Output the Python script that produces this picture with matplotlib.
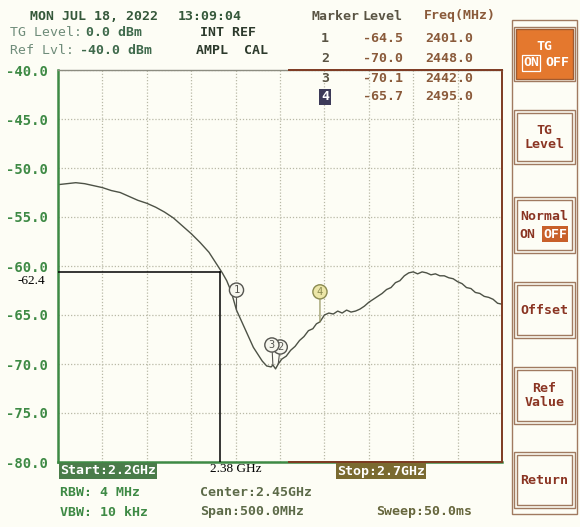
import matplotlib.pyplot as plt
from matplotlib.patches import Rectangle
import numpy as np

# trace (MHz, dBm)
freq_mhz = [2200, 2210, 2220, 2230, 2240, 2250, 2260, 2270, 2280, 2290,
            2300, 2310, 2320, 2330, 2340, 2350, 2360, 2370, 2375, 2380,
            2385, 2390, 2395, 2401, 2405, 2410, 2415, 2420, 2425, 2430,
            2435, 2440, 2442, 2445, 2448, 2452, 2457, 2462, 2467, 2472,
            2477, 2482, 2487, 2491, 2495, 2500, 2505, 2510, 2515, 2520,
            2525, 2530, 2535, 2540, 2545, 2550, 2555, 2560, 2565, 2570,
            2575, 2580, 2585, 2590, 2595, 2600, 2605, 2610, 2615, 2620,
            2625, 2630, 2635, 2640, 2645, 2650, 2655, 2660, 2665, 2670,
            2675, 2680, 2685, 2690, 2695, 2700]
level_dbm = [-51.7, -51.6, -51.5, -51.6, -51.8, -52.0, -52.3, -52.5, -52.9, -53.3,
             -53.6, -54.0, -54.5, -55.1, -55.9, -56.7, -57.6, -58.6, -59.3, -60.0,
             -60.7, -61.5, -62.6, -64.5, -65.3, -66.3, -67.3, -68.3, -69.0, -69.7,
             -70.2, -70.3, -70.1, -70.5, -70.0, -69.5, -69.2, -68.6, -68.2, -67.6,
             -67.2, -66.6, -66.4, -65.9, -65.7, -65.0, -64.8, -64.9, -64.6, -64.8,
             -64.5, -64.7, -64.6, -64.4, -64.1, -63.7, -63.4, -63.1, -62.8, -62.4,
             -62.2, -61.7, -61.5, -61.0, -60.7, -60.6, -60.8, -60.6, -60.7, -60.9,
             -60.8, -61.0, -61.0, -61.2, -61.3, -61.6, -61.8, -62.2, -62.3, -62.7,
             -62.8, -63.1, -63.2, -63.4, -63.8, -63.9]

marker_ids = ["1", "2", "3", "4"]
marker_level = [-64.5, -70.0, -70.1, -65.7]
marker_freq = [2401.0, 2448.0, 2442.0, 2495.0]
marker_level_txt = ["-64.5", "-70.0", "-70.1", "-65.7"]

y_ticks = [-40, -45, -50, -55, -60, -65, -70, -75, -80]
cursor_freq = 2382
cursor_level = -60.6
cursor_level_label = "-62.4"
cursor_freq_label = "2.38 GHz"

W, H = 580, 527
BG = "#fdfdf5"
GREEN = "#3e8a45"
BROWN = "#7e3a22"
MONO = "DejaVu Sans Mono"


def fx(x):
    return x / W


def fy(y):
    return 1 - y / H


fig = plt.figure(figsize=(5.8, 5.27), dpi=100, facecolor=BG)
ax = fig.add_axes([fx(58), fy(462), fx(502) - fx(58), fy(70) - fy(462)])
ax.set_facecolor(BG)

ax.set_xlim(2200, 2700)
ax.set_ylim(-80, -40)
ax.set_xticks(np.arange(2200, 2701, 50))
ax.set_xticklabels([])
ax.set_yticks(y_ticks)
ax.set_yticklabels(["%.1f" % v for v in y_ticks], color=GREEN,
                   family=MONO, fontsize=10, fontweight="bold")
ax.tick_params(length=0, pad=7)
ax.grid(color="#b9b9a6", ls=(0, (1, 1.5)), lw=0.9)

for s in ["left", "bottom"]:
    ax.spines[s].set_color(GREEN)
    ax.spines[s].set_linewidth(1.8)
ax.spines["top"].set_color("#8c8c80")
ax.spines["top"].set_linewidth(1.0)
ax.spines["right"].set_color(BROWN)
ax.spines["right"].set_linewidth(1.4)
ax.plot([2460, 2700], [-40, -40], color=BROWN, lw=1.4, clip_on=False, zorder=5)
ax.plot([2460, 2700], [-80, -80], color=BROWN, lw=1.4, clip_on=False, zorder=5)

ax.plot(freq_mhz, level_dbm, color="#4d5246", lw=1.0)

# marker circles
offsets = [20, 17, 20, 30]
dxs = [0, 2, -1, 0]
for mid, f, l, off, dx in zip(marker_ids, marker_freq, marker_level, offsets, dxs):
    fc = "#ece6a8" if mid == "4" else "#f6f6ee"
    ec = "#8a8a50" if mid == "4" else "#555550"
    ax.annotate(mid, xy=(f, l), xytext=(dx, off), textcoords="offset pixels",
                ha="center", va="center", fontsize=7.5, color=ec, family=MONO,
                bbox=dict(boxstyle="circle,pad=0.2", fc=fc, ec=ec, lw=1.0),
                arrowprops=dict(arrowstyle="-", color=ec, lw=0.8,
                                shrinkA=0, shrinkB=0))

# cursor lines
ax.plot([2200, cursor_freq], [cursor_level, cursor_level], color="black", lw=1.1, zorder=6)
ax.plot([cursor_freq, cursor_freq], [cursor_level, -80], color="black", lw=1.1, zorder=6)
fig.text(fx(18), fy(281), cursor_level_label, family="Liberation Serif",
         fontsize=9.5, color="black", va="center")
fig.text(fx(236), fy(469), cursor_freq_label, family="Liberation Serif",
         fontsize=9.5, color="black", va="center", ha="center")

# header
fig.text(fx(30), fy(16), "MON JUL 18, 2022", family=MONO, fontsize=9.5,
         color="#35583a", va="center", fontweight="bold")
fig.text(fx(178), fy(16), "13:09:04", family=MONO, fontsize=9.5,
         color="#35583a", va="center", fontweight="bold")
fig.text(fx(10), fy(33), "TG Level:", family=MONO, fontsize=9.5,
         color="#6f8c7a", va="center")
fig.text(fx(86), fy(33), "0.0 dBm", family=MONO, fontsize=9.5,
         color="#3f6a4c", va="center", fontweight="bold")
fig.text(fx(10), fy(50), "Ref Lvl:", family=MONO, fontsize=9.5,
         color="#6f8c7a", va="center")
fig.text(fx(80), fy(50), "-40.0 dBm", family=MONO, fontsize=9.5,
         color="#3f6a4c", va="center", fontweight="bold")
fig.text(fx(200), fy(33), "INT REF", family=MONO, fontsize=9.5,
         color="#2c3a2c", va="center", fontweight="bold")
fig.text(fx(196), fy(50), "AMPL  CAL", family=MONO, fontsize=9.5,
         color="#2c3a2c", va="center", fontweight="bold")

# marker table
fig.text(fx(312), fy(16), "Marker", family=MONO, fontsize=9.5,
         color="#5a5444", va="center", fontweight="bold")
fig.text(fx(362), fy(16), "Level", family=MONO, fontsize=9.5,
         color="#5a5444", va="center", fontweight="bold")
fig.text(fx(424), fy(16), "Freq(MHz)", family=MONO, fontsize=9.5,
         color="#8a5a3a", va="center", fontweight="bold")
row_y = [39, 58, 78, 97]
for mid, lt, f, ry in zip(marker_ids, marker_level_txt, marker_freq, row_y):
    if mid == "4":
        fig.text(fx(325), fy(ry), mid, family=MONO, fontsize=9.5, color="white",
                 va="center", ha="center", fontweight="bold",
                 bbox=dict(boxstyle="square,pad=0.12", fc="#3c3a58", ec="none"))
    else:
        fig.text(fx(325), fy(ry), mid, family=MONO, fontsize=9.5, color="#5a5444",
                 va="center", ha="center", fontweight="bold")
    fig.text(fx(363), fy(ry), lt, family=MONO, fontsize=9.5, color="#8a5a3a",
             va="center", fontweight="bold")
    fig.text(fx(425), fy(ry), "%.1f" % f, family=MONO, fontsize=9.5,
             color="#8a5a3a", va="center", fontweight="bold")

# bottom status lines
fig.text(fx(60), fy(471), "Start:2.2GHz", family=MONO, fontsize=9.5, color="white",
         va="center", fontweight="bold",
         bbox=dict(boxstyle="square,pad=0.1", fc="#4a7c4a", ec="none"))
fig.text(fx(337), fy(471), "Stop:2.7GHz", family=MONO, fontsize=9.5, color="white",
         va="center", fontweight="bold",
         bbox=dict(boxstyle="square,pad=0.1", fc="#7a6a30", ec="none"))
fig.text(fx(60), fy(492), "RBW: 4 MHz", family=MONO, fontsize=9.5,
         color=GREEN, va="center", fontweight="bold")
fig.text(fx(60), fy(512), "VBW: 10 kHz", family=MONO, fontsize=9.5,
         color=GREEN, va="center", fontweight="bold")
fig.text(fx(200), fy(492), "Center:2.45GHz", family=MONO, fontsize=9.5,
         color="#5c6a48", va="center", fontweight="bold")
fig.text(fx(200), fy(512), "Span:500.0MHz", family=MONO, fontsize=9.5,
         color="#5c6a48", va="center", fontweight="bold")
fig.text(fx(376), fy(512), "Sweep:50.0ms", family=MONO, fontsize=9.5,
         color="#66663c", va="center", fontweight="bold")

# soft key panel
def rect(x0, y0, x1, y1, **kw):
    fig.add_artist(Rectangle((fx(x0), fy(y1)), fx(x1) - fx(x0), fy(y0) - fy(y1),
                             transform=fig.transFigure, **kw))


rect(512, 20, 577, 514, fill=False, ec="#a07a60", lw=1.0)
buttons = [(27, 81), (110, 164), (197, 253), (282, 338), (367, 424), (452, 508)]
labels = ["TG\n", "TG\nLevel", "Normal\n", "Offset", "Ref\nValue", "Return"]
for i, ((y0, y1), lab) in enumerate(zip(buttons, labels)):
    rect(514, y0, 575, y1, fill=False, ec="#a07a60", lw=1.0)
    if i == 0:
        rect(516, y0 + 2, 573, y1 - 2, fc="#e4782e", ec="#a05a30", lw=1.0)
        tc = "white"
    else:
        rect(517, y0 + 3, 572, y1 - 3, fill=False, ec="#a07a60", lw=1.0)
        tc = "#8a3422"
    cy = (y0 + y1) / 2
    if i == 0:
        fig.text(fx(544.5), fy(cy - 8), "TG", family=MONO, fontsize=9.5, color=tc,
                 ha="center", va="center", fontweight="bold")
        fig.text(fx(523), fy(cy + 9), "ON", family=MONO, fontsize=9.5, color=tc,
                 va="center", fontweight="bold",
                 bbox=dict(boxstyle="square,pad=0.08", fc="none", ec="white", lw=0.9))
        fig.text(fx(545), fy(cy + 9), "OFF", family=MONO, fontsize=9.5, color=tc,
                 va="center", fontweight="bold")
    elif i == 2:
        fig.text(fx(544.5), fy(cy - 8), "Normal", family=MONO, fontsize=9.5, color=tc,
                 ha="center", va="center", fontweight="bold")
        fig.text(fx(519), fy(cy + 9), "ON", family=MONO, fontsize=9.5, color=tc,
                 va="center", fontweight="bold")
        fig.text(fx(543), fy(cy + 9), "OFF", family=MONO, fontsize=9.5, color="white",
                 va="center", fontweight="bold",
                 bbox=dict(boxstyle="square,pad=0.08", fc="#c8602a", ec="none"))
    else:
        fig.text(fx(544.5), fy(cy), lab, family=MONO, fontsize=9.5, color=tc,
                 ha="center", va="center", fontweight="bold", linespacing=1.1)

plt.savefig("out.png", dpi=100, facecolor=BG)
